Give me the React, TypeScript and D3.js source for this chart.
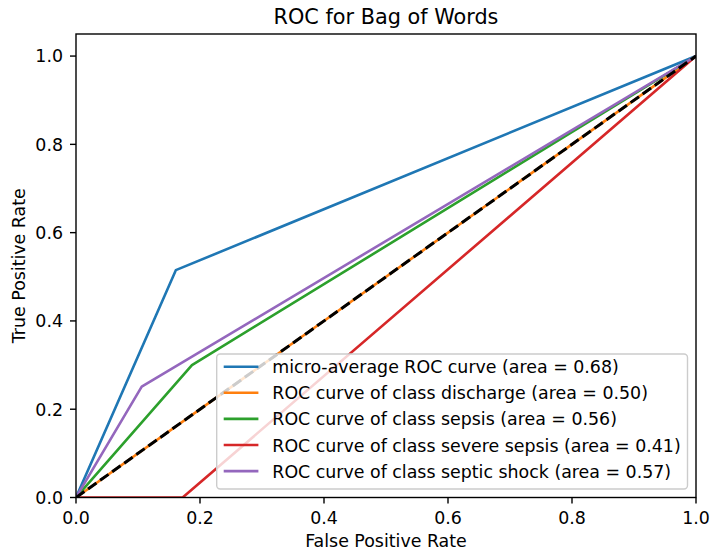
import React from "react";
import * as d3 from "d3";

const title = "ROC for Bag of Words";
const xLabel = "False Positive Rate";
const yLabel = "True Positive Rate";
const tickValues = [0, 0.2, 0.4, 0.6, 0.8, 1.0];

const seriesNames = [
  "micro-average ROC curve (area = 0.68)",
  "ROC curve of class discharge (area = 0.50)",
  "ROC curve of class sepsis (area = 0.56)",
  "ROC curve of class severe sepsis (area = 0.41)",
  "ROC curve of class septic shock (area = 0.57)",
];
const seriesColors = ["#1f77b4", "#ff7f0e", "#2ca02c", "#d62728", "#9467bd"];

const microFpr = [0, 0.161, 1];
const microTpr = [0, 0.515, 1];
const dischargeFpr = [0, 1];
const dischargeTpr = [0, 1];
const sepsisFpr = [0, 0.187, 1];
const sepsisTpr = [0, 0.3, 1];
const severeFpr = [0, 0.172, 1];
const severeTpr = [0, 0, 1];
const shockFpr = [0, 0.106, 1];
const shockTpr = [0, 0.251, 1];
const chanceFpr = [0, 1];
const chanceTpr = [0, 1];

const seriesFpr = [microFpr, dischargeFpr, sepsisFpr, severeFpr, shockFpr];
const seriesTpr = [microTpr, dischargeTpr, sepsisTpr, severeTpr, shockTpr];

const W = 711;
const H = 554;
const left = 76;
const right = 696;
const top = 34;
const bottom = 497.5;
const font = "DejaVu Sans, sans-serif";
const fs = 17.4;

export default function App() {
  const x = d3.scaleLinear().domain([0, 1]).range([left, right]);
  const y = d3.scaleLinear().domain([0, 1.05]).range([bottom, top]);
  const line = d3
    .line<[number, number]>()
    .x((d) => x(d[0]))
    .y((d) => y(d[1]));
  const mk = (fx: number[], ty: number[]) =>
    line(fx.map((v, i) => [v, ty[i]] as [number, number])) || "";

  const lgLeft = 216.7;
  const lgRight = 687.5;
  const lgTop = 354;
  const lgBottom = 489;
  const rowY0 = 366.7;
  const rowStep = 26.1;

  return (
    <svg
      width={W}
      height={H}
      style={{ position: "absolute", left: 0, top: 0, background: "#fff" }}
      fontFamily={font}
    >
      <rect x={0} y={0} width={W} height={H} fill="#fff" />
      <defs>
        <clipPath id="plotclip">
          <rect x={left} y={top} width={right - left} height={bottom - top} />
        </clipPath>
      </defs>
      <g clipPath="url(#plotclip)">
        {seriesNames.map((n, i) => (
          <path
            key={n}
            d={mk(seriesFpr[i], seriesTpr[i])}
            fill="none"
            stroke={seriesColors[i]}
            strokeWidth={2.6}
            strokeLinejoin="round"
            strokeLinecap="butt"
          />
        ))}
        <path
          d={mk(chanceFpr, chanceTpr)}
          fill="none"
          stroke="#000"
          strokeWidth={3}
          strokeDasharray="10.3,4.5"
        />
      </g>
      {/* spines */}
      <rect
        x={left}
        y={top}
        width={right - left}
        height={bottom - top}
        fill="none"
        stroke="#000"
        strokeWidth={1.4}
      />
      {/* x ticks */}
      {tickValues.map((t) => (
        <g key={"x" + t}>
          <line x1={x(t)} x2={x(t)} y1={bottom} y2={bottom + 6} stroke="#000" strokeWidth={1.4} />
          <text x={x(t)} y={524} textAnchor="middle" fontSize={fs} fill="#000">
            {t.toFixed(1)}
          </text>
        </g>
      ))}
      {/* y ticks */}
      {tickValues.map((t) => (
        <g key={"y" + t}>
          <line x1={left - 6} x2={left} y1={y(t)} y2={y(t)} stroke="#000" strokeWidth={1.4} />
          <text x={63} y={y(t) + 6.4} textAnchor="end" fontSize={fs} fill="#000">
            {t.toFixed(1)}
          </text>
        </g>
      ))}
      <text x={(left + right) / 2} y={24} textAnchor="middle" fontSize={20.8} fill="#000">
        {title}
      </text>
      <text x={(left + right) / 2} y={547} textAnchor="middle" fontSize={fs} fill="#000">
        {xLabel}
      </text>
      <text
        transform={`translate(25, ${(top + bottom) / 2}) rotate(-90)`}
        textAnchor="middle"
        fontSize={fs}
        fill="#000"
      >
        {yLabel}
      </text>
      {/* legend */}
      <rect
        x={lgLeft}
        y={lgTop}
        width={lgRight - lgLeft}
        height={lgBottom - lgTop}
        rx={3.5}
        ry={3.5}
        fill="#fff"
        fillOpacity={0.8}
        stroke="#cccccc"
        strokeWidth={1.4}
      />
      {seriesNames.map((n, i) => {
        const cy = rowY0 + i * rowStep;
        return (
          <g key={"lg" + n}>
            <line
              x1={lgLeft + 7}
              x2={lgLeft + 41.7}
              y1={cy}
              y2={cy}
              stroke={seriesColors[i]}
              strokeWidth={2.6}
            />
            <text x={lgLeft + 55.6} y={cy + 6.5} fontSize={fs} fill="#000">
              {n}
            </text>
          </g>
        );
      })}
    </svg>
  );
}
